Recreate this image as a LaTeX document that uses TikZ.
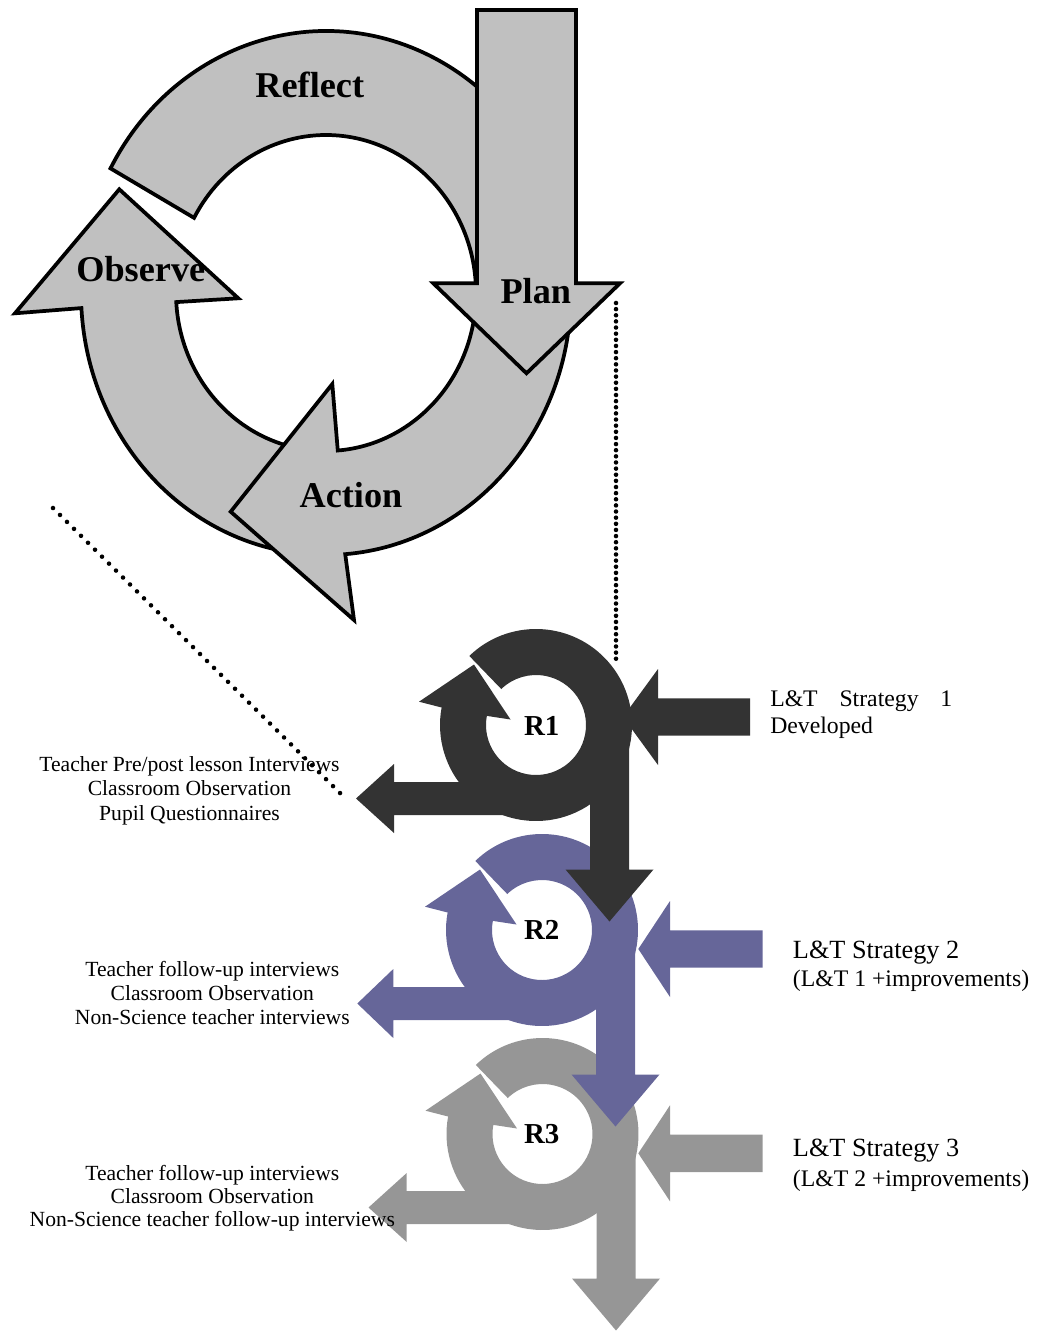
\documentclass[tikz,border=0pt]{standalone}
\usepackage{fontspec}
\setmainfont{Liberation Serif}
\definecolor{cyc}{HTML}{C0C0C0}
\definecolor{rone}{HTML}{333333}
\definecolor{rtwo}{HTML}{666699}
\definecolor{rthree}{HTML}{969696}
% #1 cx, #2 cy (image px), #3 colour, #4 left base x, #5 left tip x,
% #6 right arrow centre y, #7 right base x, #8 right tip x, #9 right end x
\newcommand{\ringunit}[9]{%
\begin{scope}[shift={(#1,-#2)}]
 \fill[#3] (134:96) arc[start angle=134, end angle=-190.5, radius=96]
   -- (-117,23.3) -- (-62,60.5) -- (-25.5,5.5)
   -- (-190.5:50) arc[start angle=-190.5, end angle=134, radius=50] -- cycle;
 \fill[#3] (54,0) -- (93,0) -- (93,-144.5) -- (117.5,-144.5) -- (73.5,-196.5)
   -- (29.5,-144.5) -- (54,-144.5) -- cycle;
 \fill[#3] (0,-57) -- (#4,-57) -- (#4,-39) -- (#5,-73.5) -- (#4,-108)
   -- (#4,-90) -- (0,-90) -- cycle;
 \fill[#3] (#9,#6+18.7) -- (#7,#6+18.7) -- (#7,#6+48) -- (#8,#6)
   -- (#7,#6-48) -- (#7,#6-18.7) -- (#9,#6-18.7) -- cycle;
\end{scope}}
\begin{document}
\begin{tikzpicture}[x=0.75pt,y=0.75pt,
  bigarrow/.style={fill=cyc, draw=black, line width=2.8pt, line join=miter, miter limit=12},
  biglabel/.style={font=\fontsize{27.2}{32}\selectfont\bfseries, inner sep=0pt, anchor=base},
  rlabel/.style={font=\fontsize{21.7}{26}\selectfont\bfseries, inner sep=0pt, anchor=base},
  lefttext/.style={font=\fontsize{16.2}{19}\selectfont, inner sep=0pt, anchor=base},
  righttext/.style={font=\fontsize{17.8}{21}\selectfont, inner sep=0pt, anchor=base west},
  rightbig/.style={font=\fontsize{19.7}{23}\selectfont, inner sep=0pt, anchor=base west},
  dotv/.style={line width=3.4pt, line cap=round, dash pattern=on 0pt off 4.6pt},
  dotd/.style={line width=3.4pt, line cap=round, dash pattern=on 0pt off 7.4pt}]
\useasboundingbox (0,0) rectangle (1042,-1331);

% ---------- big cycle ----------
\begin{scope}[shift={(326,-293)}]
 % Observe
 \filldraw[bigarrow] (260:150 and 158) arc[start angle=260, end angle=183.3, x radius=150, y radius=158]
   -- (-87.7,-5.3) -- (-206.7,103.7) -- (-311,-20.3)
   -- (183.3:245 and 262) arc[start angle=183.3, end angle=260, x radius=245, y radius=262] -- cycle;
 % Reflect
 \filldraw[bigarrow] (151.6:245 and 262) arc[start angle=151.6, end angle=10, x radius=245, y radius=262]
   -- (-2:150 and 158) arc[start angle=-2, end angle=151.6, x radius=150, y radius=158] -- cycle;
 % Action
 \filldraw[bigarrow] (-2:245 and 262) arc[start angle=-2, end angle=-85.5, x radius=245, y radius=262]
   -- (28,-327) -- (-95.3,-218.7) -- (6.3,-91)
   -- (-85.5:150 and 158) arc[start angle=-85.5, end angle=-2, x radius=150, y radius=158] -- cycle;
 % Plan
 \filldraw[bigarrow] (151,283) -- (250,283) -- (250,9.7) -- (294,9.7) -- (200.5,-80.3)
   -- (107.3,9.7) -- (151,9.7) -- cycle;
\end{scope}
\node[biglabel] (reflect) at (309.8,-98) {Reflect};
\node[biglabel] (observe) at (140.8,-281) {Observe};
\node[biglabel] (plan) at (535.8,-303) {Plan};
\node[biglabel] (action) at (351,-507) {Action};

% ---------- small cycles ----------
\ringunit{542.5}{1134}{rthree}{-135.8}{-174}{-19.3}{127.5}{95.8}{220.2}
\ringunit{542}{930}{rtwo}{-148.7}{-184.7}{-19}{128}{96.3}{220.7}
\ringunit{536}{725}{rone}{-142}{-180}{8}{122}{87}{214}
\node[rlabel] (r1) at (541.7,-735) {R1};
\node[rlabel] (r2) at (541.7,-939.3) {R2};
\node[rlabel] (r3) at (541.7,-1143.3) {R3};

% ---------- texts ----------
\node[lefttext] (a1) at (189.5,-771.7) {Teacher Pre/post lesson Interviews};
\node[lefttext] (a2) at (189.5,-795) {Classroom Observation};
\node[lefttext] (a3) at (189.5,-820) {Pupil Questionnaires};
\node[lefttext] (b1) at (212.3,-976) {Teacher follow-up interviews};
\node[lefttext] (b2) at (212.3,-1000) {Classroom Observation};
\node[lefttext] (b3) at (212.3,-1024) {Non-Science teacher interviews};
\node[lefttext] (c1) at (212.3,-1180) {Teacher follow-up interviews};
\node[lefttext] (c2) at (212.3,-1203.3) {Classroom Observation};
\node[lefttext] (c3) at (212.3,-1226.7) {Non-Science teacher follow-up interviews};

\node[righttext] (s1a) at (770,-706) {\hbox to 136.5pt{L\&T\hfill Strategy\hfill 1}};
\node[righttext] (s1b) at (770,-733) {Developed};
\node[rightbig] (s2a) at (792.7,-958.3) {L\&T Strategy 2};
\node[righttext] (s2b) at (792.7,-986.5) {(L\&T 1 +improvements)};
\node[rightbig] (s3a) at (792.7,-1156.7) {L\&T Strategy 3};
\node[righttext] (s3b) at (792.7,-1186) {(L\&T 2 +improvements)};

% ---------- dotted guides ----------
\coordinate (v1) at (616,-303);
\coordinate (v2) at (616,-663);
\coordinate (g1) at (53,-508);
\coordinate (g2) at (345,-798);
\draw[dotv] (v1) -- (v2);
\draw[dotd] (g1) -- (g2);
\end{tikzpicture}
\end{document}
